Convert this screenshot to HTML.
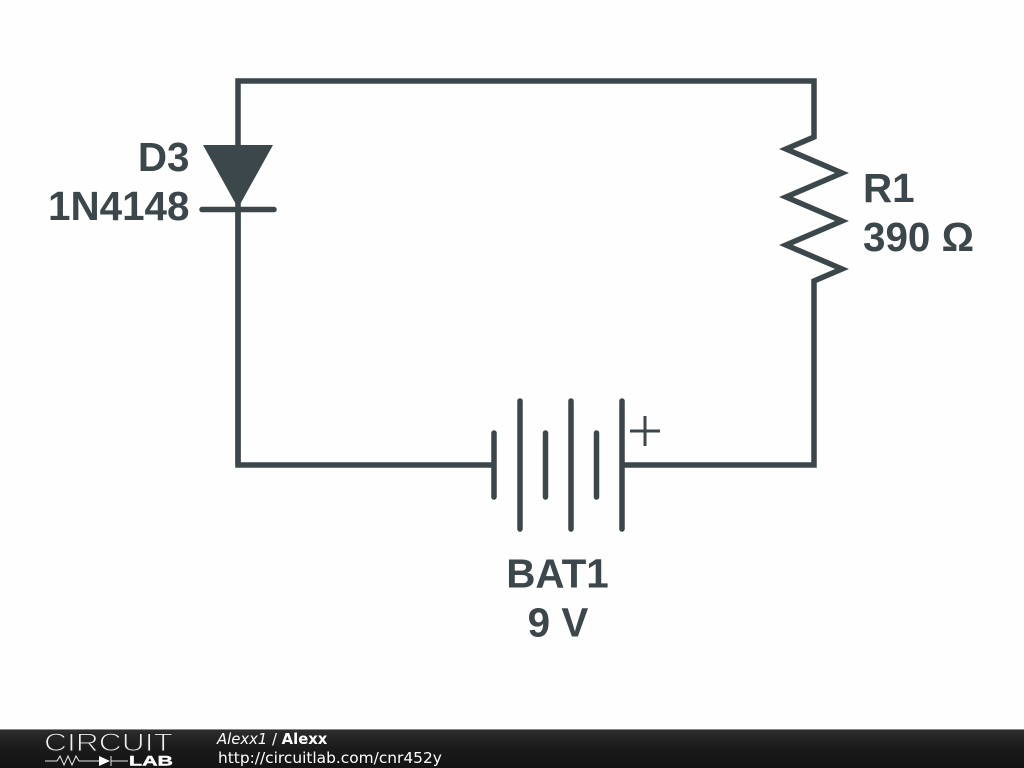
<!DOCTYPE html>
<html><head><meta charset="utf-8"><title>Circuit</title>
<style>html,body{margin:0;padding:0;background:#fff}svg{display:block}</style></head>
<body>
<svg xmlns="http://www.w3.org/2000/svg" width="1024" height="768" viewBox="0 0 1024 768">
<defs><linearGradient id="g" x1="0" y1="0" x2="0" y2="1"><stop offset="0" stop-color="#2e2e2e"/><stop offset="0.5" stop-color="#1a1a1a"/><stop offset="1" stop-color="#141414"/></linearGradient></defs>
<rect width="1024" height="768" fill="#fefefe"/>
<g fill="none" stroke="#3c474c" stroke-width="5.500" stroke-linejoin="miter">
<path d="M238 465V81H814V137L786 149L842 173L786 197L842 221L786 245L842 269L814 281V465H622"/>
<path d="M238 210V465H494"/>
<g stroke-linecap="round">
<path d="M202 209.500H274"/>
<path d="M494 433V497M520 401V529M545.500 433V497M571 401V529M596.500 433V497M622 401V529"/>
</g>
<path stroke-width="3" d="M630 431H660M645 416V446"/>
</g>
<path d="M203 145H273L238 208Z" fill="#3c474c"/>
<g font-family="'Liberation Sans',sans-serif" font-weight="bold" font-size="40.400" fill="#3c474c">
<text x="189.500" y="171" text-anchor="end">D3</text>
<text x="189.500" y="220" text-anchor="end">1N4148</text>
<text x="863" y="202">R1</text>
<text x="863" y="251">390 Ω</text>
<text x="557.500" y="587.500" text-anchor="middle">BAT1</text>
<text x="558" y="636.500" text-anchor="middle">9 V</text>
</g>
<rect y="729" width="1024" height="39" fill="url(#g)"/>
<rect y="729" width="1024" height="1" fill="#8a8a8a"/>
<text x="44" y="751" font-family="'Liberation Sans',sans-serif" font-size="25" fill="#f2f2f2" stroke="#232323" stroke-width="1" textLength="129" lengthAdjust="spacingAndGlyphs">CIRCUIT</text>
<path d="M45 761H57L60 756L64 765L68 756L72 765L76 756L79 761H99M122 761H128M111 756V766" fill="none" stroke="#e8e8e8" stroke-width="1"/>
<path d="M99 756L110 761L99 766Z" fill="#fff"/>
<path d="M111 761H127" stroke="#e8e8e8" stroke-width="1"/>
<text x="129" y="765.500" font-family="'Liberation Sans',sans-serif" font-weight="bold" font-size="14" fill="#fff" stroke="#fff" stroke-width="0.400" textLength="44" lengthAdjust="spacingAndGlyphs">LAB</text>
<text x="217" y="744" font-family="'DejaVu Sans',sans-serif" font-size="14.800" fill="#fff"><tspan font-style="italic">Alexx1</tspan> / <tspan font-weight="bold">Alexx</tspan></text>
<text x="218" y="763" font-family="'DejaVu Sans',sans-serif" font-size="15.400" fill="#fff">http://circuitlab.com/cnr452y</text>
</svg>
</body></html>
